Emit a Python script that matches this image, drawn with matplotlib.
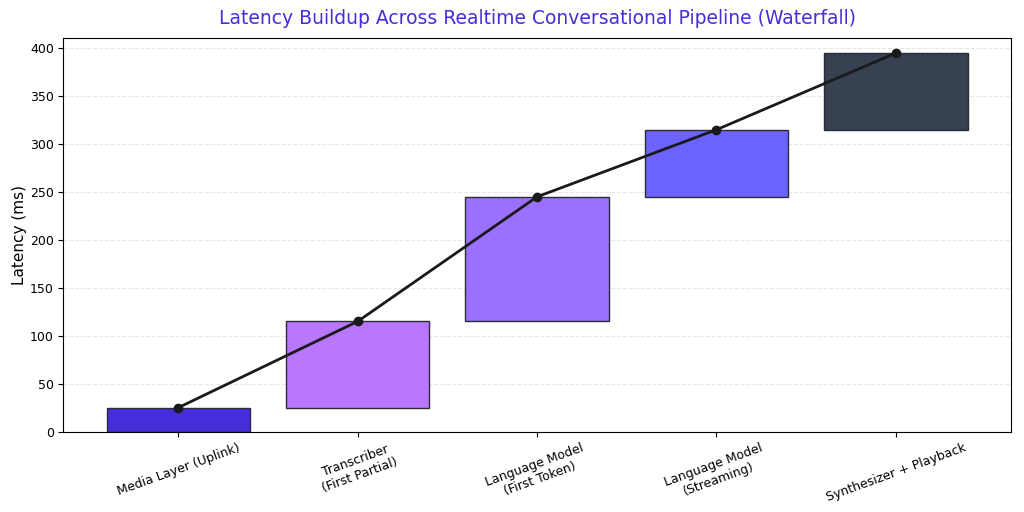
import matplotlib.pyplot as plt
import numpy as np

stages = [
    "Media Layer (Uplink)",
    "Transcriber\n(First Partial)",
    "Language Model\n(First Token)",
    "Language Model\n(Streaming)",
    "Synthesizer + Playback",
]
increments_ms = [25, 90, 130, 70, 80]
bar_colors = ["#452ed9", "#b977fd", "#9b70ff", "#6c63ff", "#374151"]

cumulative = np.cumsum(increments_ms)
bottoms = cumulative - np.array(increments_ms)

fig, ax = plt.subplots(figsize=(10.24, 5.12), dpi=100)
x = np.arange(len(stages))
ax.bar(x, increments_ms, bottom=bottoms, width=0.8, color=bar_colors,
       edgecolor="#2b2b3a", linewidth=1.0, zorder=2)
ax.plot(x, cumulative, color="#1a1a1a", linewidth=2, marker="o", markersize=6, zorder=3)

ax.set_xticks(x)
ax.set_xticklabels(stages, rotation=20, fontsize=9)
ax.set_ylabel("Latency (ms)", fontsize=11, labelpad=2)
ax.set_ylim(0, cumulative[-1] * 1.04)
ax.tick_params(axis="y", labelsize=9)
ax.set_title("Latency Buildup Across Realtime Conversational Pipeline (Waterfall)",
             fontsize=13.5, color="#452ed9", pad=10)
ax.grid(axis="y", linestyle="--", alpha=0.3, zorder=0)
ax.set_axisbelow(True)

plt.subplots_adjust(left=0.062, right=0.987, top=0.926, bottom=0.157)
plt.savefig("out.png", dpi=100)
